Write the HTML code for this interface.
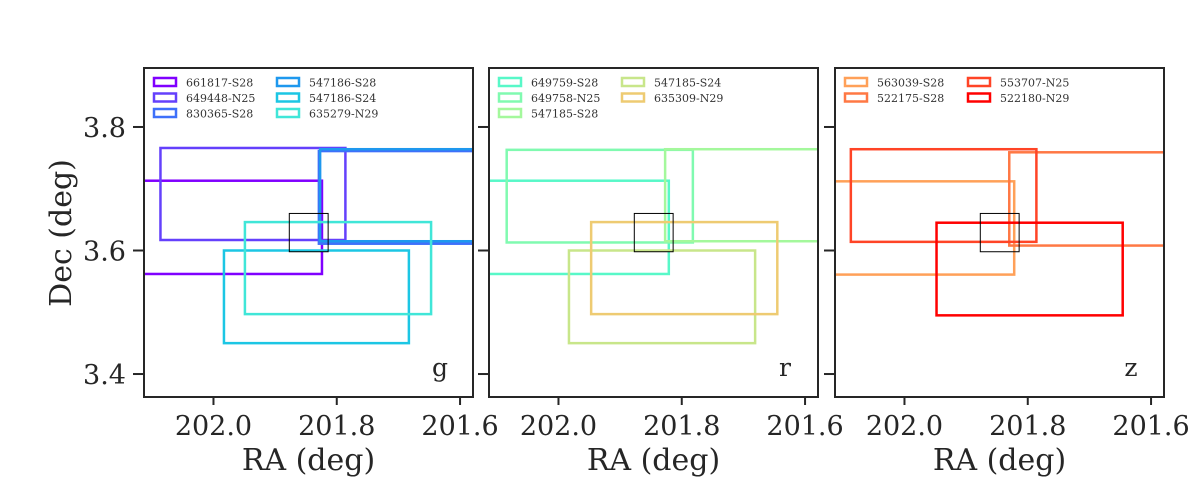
<!DOCTYPE html>
<html><head><meta charset="utf-8"><style>
html,body{margin:0;padding:0;background:#fff;}
svg{display:block;font-family:"DejaVu Serif","Liberation Serif",serif;}
</style></head><body>
<svg id="chart" width="1200" height="500" viewBox="0 0 1200 500" xmlns="http://www.w3.org/2000/svg"></svg>
<script>
// ---- data ----
const panelBands = ['g','r','z'];
const xTicks = [202.0, 201.8, 201.6];
const xTickLabels = ['202.0','201.8','201.6'];
const yTicks = [3.8, 3.6, 3.4];
const yTickLabels = ['3.8','3.6','3.4'];
const target = [201.877, 201.814, 3.598, 3.660];
// each ccd: [ra_left, ra_right, dec_low, dec_high]
const gNames = ['661817-S28','649448-N25','830365-S28','547186-S28','547186-S24','635279-N29'];
const gColors = ['#8000ff','#6440fc','#3e70fa','#1e98ee','#1cc6e4','#40e6d8'];
const gRects = [[202.16,201.824,3.562,3.713],[202.086,201.786,3.617,3.766],[201.829,201.50,3.611,3.761],[201.827,201.50,3.615,3.764],[201.983,201.683,3.450,3.600],[201.949,201.647,3.497,3.646]];
const rNames = ['649759-S28','649758-N25','547185-S28','547185-S24','635309-N29'];
const rColors = ['#58f8c8','#80fab0','#a4f89c','#c8e68a','#eecb72'];
const rRects = [[202.16,201.821,3.562,3.713],[202.084,201.782,3.613,3.763],[201.827,201.50,3.615,3.764],[201.983,201.681,3.450,3.600],[201.947,201.645,3.497,3.646]];
const zNames = ['563039-S28','522175-S28','553707-N25','522180-N29'];
const zColors = ['#ffa058','#ff7844','#ff4426','#ff0000'];
const zRects = [[202.16,201.822,3.561,3.712],[201.830,201.50,3.608,3.759],[202.087,201.786,3.614,3.764],[201.948,201.646,3.495,3.645]];

const NS='http://www.w3.org/2000/svg';
const svg=document.getElementById('chart');
function mk(tag,attrs,parent){const e=document.createElementNS(NS,tag);for(const k in attrs)e.setAttribute(k,attrs[k]);(parent||svg).appendChild(e);return e;}
const panelLeft=[144,489,835], PW=329, PT=68, PH=329;
const raMax=202.1127, raMin=201.579, decMin=3.3628, decMax=3.8955;
const panels=[[gNames,gColors,gRects],[rNames,rColors,rRects],[zNames,zColors,zRects]];

panels.forEach((p,pi)=>{
  const L=panelLeft[pi];
  const xs=ra=>L+(raMax-ra)/(raMax-raMin)*PW;
  const ys=d=>PT+(decMax-d)/(decMax-decMin)*PH;
  const g=mk('g',{});
  
  
  const cid='clip'+pi;
  const cp=mk('clipPath',{id:cid},g);mk('rect',{x:L,y:PT,width:PW,height:PH},cp);
  const plot=mk('g',{'clip-path':'url(#'+cid+')'},g);
  const [names,colors,rects]=p;
  rects.forEach((r,i)=>{
    const x1=xs(r[0]),x2=xs(r[1]),y1=ys(r[3]),y2=ys(r[2]);
    const el=mk('rect',{x:x1,y:y1,width:x2-x1,height:y2-y1,fill:'none',stroke:colors[i],'stroke-width':2.5},plot);
    
    
  });
  const t=mk('rect',{x:xs(target[0]),y:ys(target[3]),width:xs(target[1])-xs(target[0]),height:ys(target[2])-ys(target[3]),fill:'none',stroke:'#000','stroke-width':1},plot);
  
  
  const fr=mk('rect',{x:L,y:PT,width:PW,height:PH,fill:'none',stroke:'#262626','stroke-width':2},g);
  
  
  xTicks.forEach((v,i)=>{
    const x=xs(v);
    mk('line',{x1:x,y1:PT+PH,x2:x,y2:PT+PH+8,stroke:'#262626','stroke-width':2},g);
    const tl=mk('text',{x:x,y:435,'text-anchor':'middle','font-size':27,fill:'#262626'},g);
    tl.textContent=xTickLabels[i];
    
    
  });
  yTicks.forEach((v,i)=>{
    const y=ys(v);
    mk('line',{x1:L-11,y1:y,x2:L,y2:y,stroke:'#262626','stroke-width':2},g);
    if(pi===0){
      const tl=mk('text',{x:126,y:y+10,'text-anchor':'end','font-size':27,fill:'#262626'},g);
      tl.textContent=yTickLabels[i];
      
      
    }
  });
  const xl=mk('text',{x:L+PW/2,y:470,'text-anchor':'middle','font-size':30,fill:'#262626'},g);
  xl.textContent='RA (deg)';
  
  
  const bl=mk('text',{x:L+PW-33,y:376,'text-anchor':'middle','font-size':25,fill:'#262626'},g);
  bl.textContent=panelBands[pi];
  
  
  const lg=mk('g',{},g);
  
  
  const perCol=Math.ceil(names.length/2);
  names.forEach((n,i)=>{
    const col=i<perCol?0:1,row=i%perCol;
    const hx=L+10+col*123,hy=78+row*15.5;
    const h=mk('rect',{x:hx,y:hy,width:22,height:8,fill:'none',stroke:colors[i],'stroke-width':2.5},lg);
    
    
    const tx=mk('text',{x:hx+32,y:hy+8.5,'font-size':11,fill:'#333'},lg);
    tx.textContent=n;
    
    
  });
});
const yl=mk('text',{x:0,y:0,'text-anchor':'middle','font-size':30,fill:'#262626',transform:'translate(71,233) rotate(-90)'});
yl.textContent='Dec (deg)';


</script>
</body></html>
